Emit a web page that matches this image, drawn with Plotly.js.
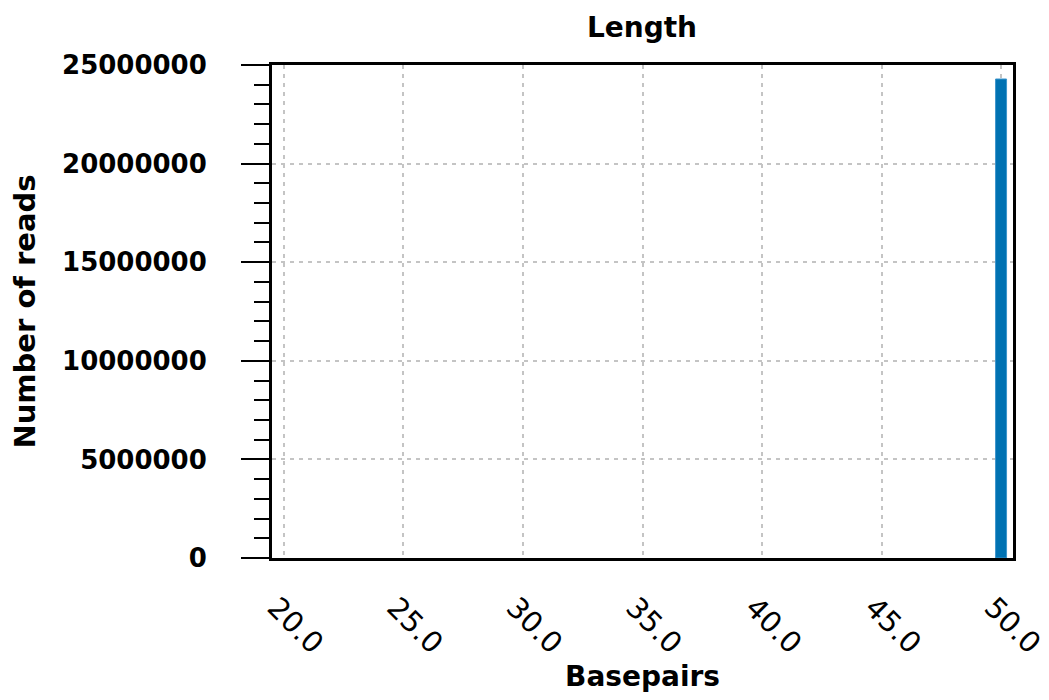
<!DOCTYPE html>
<html>
<head>
<meta charset="utf-8">
<script src="https://cdn.plot.ly/plotly-3.0.1.min.js"></script>
<style>
html,body{margin:0;padding:0;background:#fff;}
#chart{width:1049px;height:700px;}
</style>
</head>
<body>
<div id="chart"></div>
<script>
const basepairs = [50];
const reads = [24290000];
const xTickVals = [20, 25, 30, 35, 40, 45, 50];
const yTickVals = [0, 5000000, 10000000, 15000000, 20000000, 25000000];

const FONT = 'DejaVu Sans, sans-serif';

const trace = {
  type: 'bar',
  x: basepairs,
  y: reads,
  width: 0.46,
  marker: {color: '#0072b2', line: {color: '#3d95cc', width: 1}},
  hoverinfo: 'x+y'
};

const layout = {
  width: 1049,
  height: 700,
  paper_bgcolor: '#ffffff',
  plot_bgcolor: '#ffffff',
  margin: {l: 272, r: 36, t: 65, b: 142, pad: 0},
  showlegend: false,
  title: {
    text: 'Length',
    font: {family: FONT, size: 28, color: '#000', weight: 'bold'},
    x: 0.612, xanchor: 'center', y: 0.961, yanchor: 'middle'
  },
  xaxis: {
    range: [19.5, 50.5],
    tickvals: xTickVals,
    tickformat: '.1f',
    tickangle: 45,
    ticks: '',
    ticklabeloverflow: 'allow',
    ticklabelstandoff: 18,
    ticklabelshift: -8,
    showgrid: true,
    gridcolor: '#c4c4c4',
    gridwidth: 2,
    griddash: '4px,5px',
    zeroline: false,
    showline: true,
    linecolor: '#000',
    linewidth: 3,
    mirror: true,
    tickfont: {family: FONT, size: 29, color: '#000'},
    title: {text: 'Basepairs', font: {family: FONT, size: 28, color: '#000', weight: 'bold'}, standoff: 8}
  },
  yaxis: {
    range: [0, 25000000],
    tickvals: yTickVals,
    tickformat: 'd',
    ticks: 'outside',
    ticklen: 28,
    tickwidth: 2,
    tickcolor: '#000',
    ticklabelstandoff: 29,
    minor: {dtick: 1000000, ticks: 'outside', ticklen: 15, tickwidth: 2, tickcolor: '#000', showgrid: false},
    showgrid: true,
    gridcolor: '#c4c4c4',
    gridwidth: 2,
    griddash: '4px,5px',
    zeroline: false,
    showline: true,
    linecolor: '#000',
    linewidth: 3,
    mirror: true,
    tickfont: {family: FONT, size: 26, color: '#000', weight: 'bold'},
    title: {text: 'Number of reads', font: {family: FONT, size: 29, color: '#000', weight: 'bold'}, standoff: 18}
  }
};

Plotly.newPlot('chart', [trace], layout, {displayModeBar: false, staticPlot: true});
</script>
</body>
</html>
